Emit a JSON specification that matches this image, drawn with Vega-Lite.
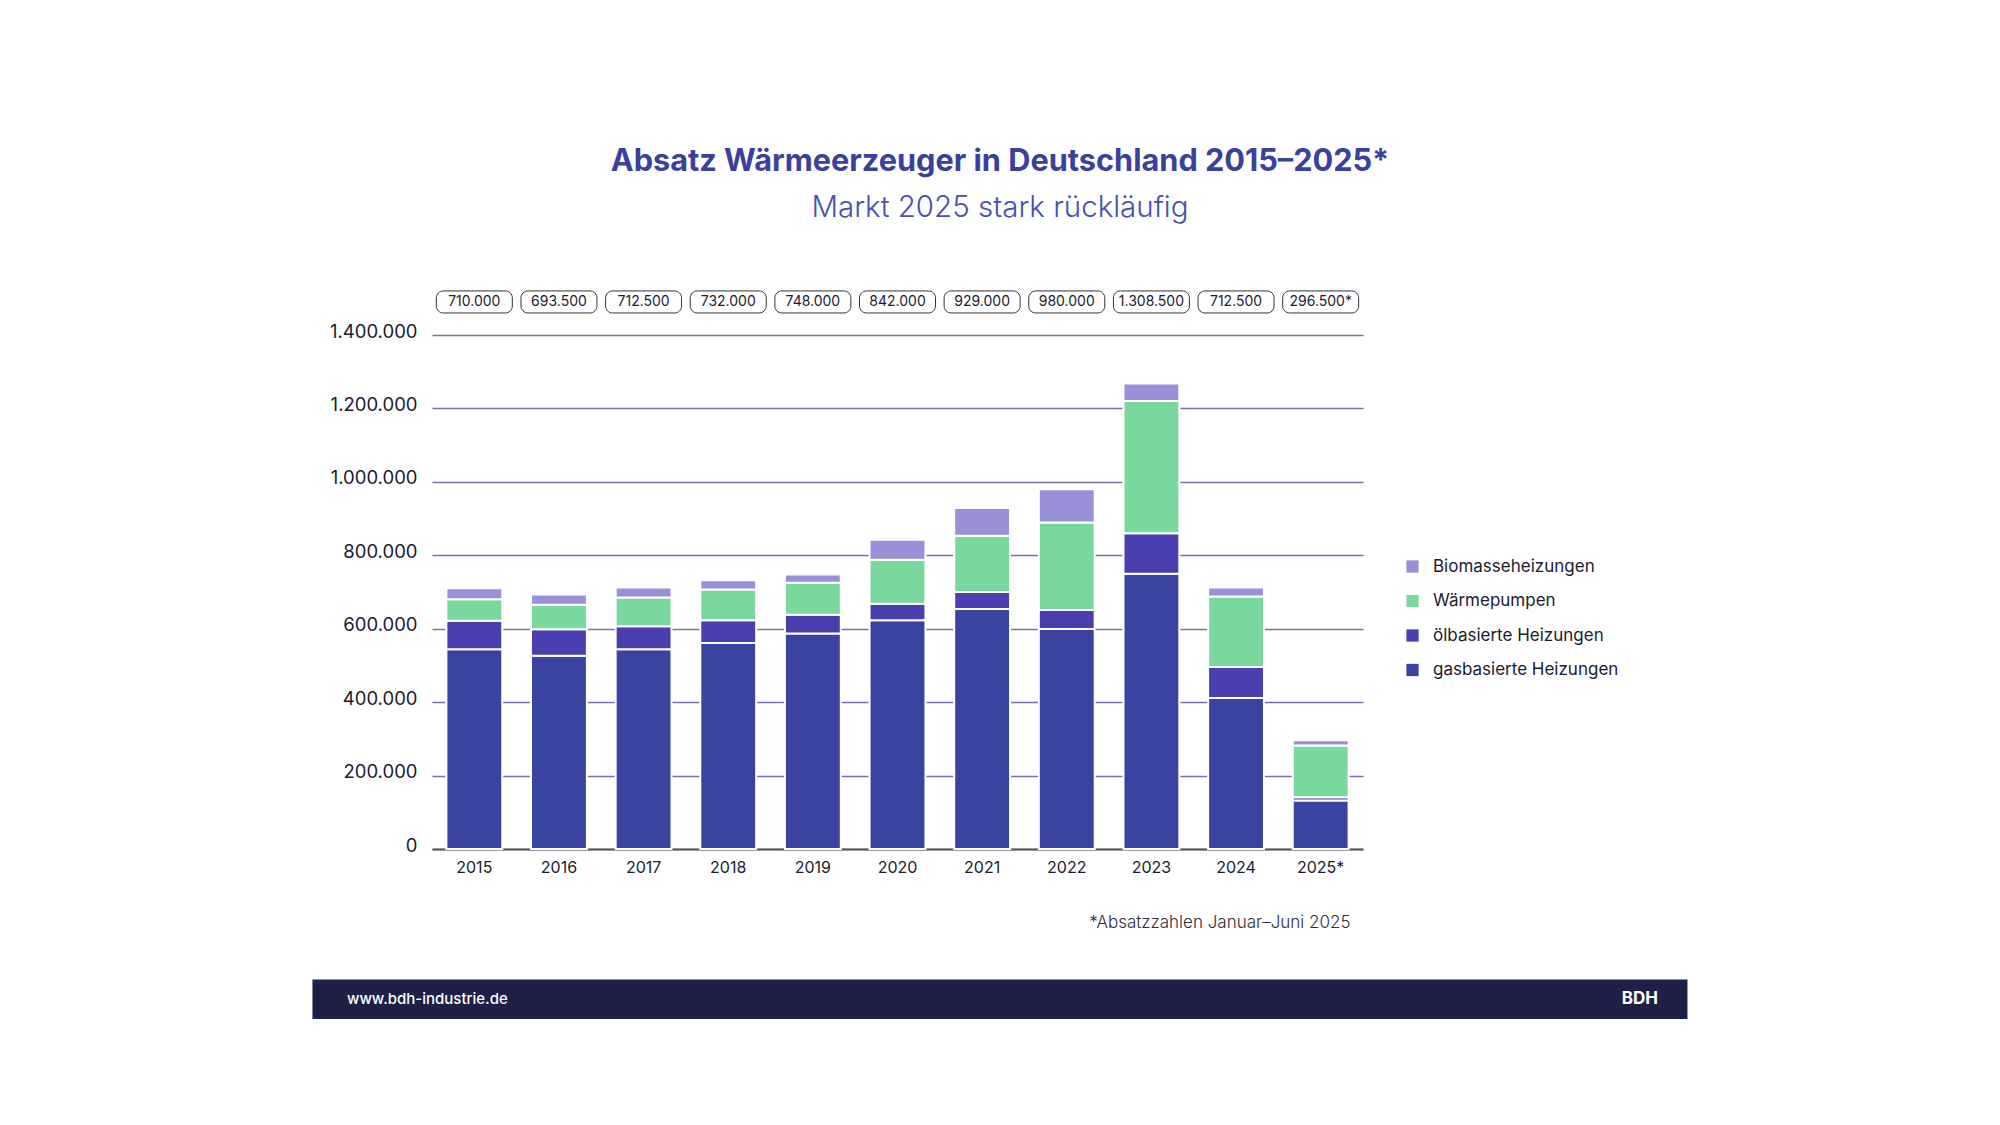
{
  "$schema": "https://vega.github.io/schema/vega-lite/v6.json",
  "width": 931,
  "height": 514,
  "autosize": {"type": "none"},
  "padding": {"left": 432, "top": 335, "right": 637, "bottom": 276},
  "background": "white",
  "title": {
    "text": "Absatz Wärmeerzeuger in Deutschland 2015–2025*",
    "subtitle": "Markt 2025 stark rückläufig",
    "anchor": "middle",
    "frame": "bounds",
    "font": "Inter",
    "fontSize": 30.7,
    "fontWeight": 700,
    "color": "#3a409e",
    "subtitleFont": "Inter",
    "subtitleFontSize": 29.5,
    "subtitleFontWeight": 300,
    "subtitleColor": "#4b4fae",
    "subtitlePadding": 16,
    "offset": 67
  },
  "config": {
    "font": "Inter",
    "view": {"stroke": null},
    "locale": {"number": {"decimal": ",", "thousands": ".", "grouping": [3], "currency": ["", " €"]}}
  },
  "datasets": {
    "segmente": [
      {"jahr": "2015", "typ": "gasbasierte Heizungen", "absatz": 544000},
      {"jahr": "2015", "typ": "ölbasierte Heizungen", "absatz": 78000},
      {"jahr": "2015", "typ": "Wärmepumpen", "absatz": 58000},
      {"jahr": "2015", "typ": "Biomasseheizungen", "absatz": 30000},
      {"jahr": "2016", "typ": "gasbasierte Heizungen", "absatz": 526500},
      {"jahr": "2016", "typ": "ölbasierte Heizungen", "absatz": 72000},
      {"jahr": "2016", "typ": "Wärmepumpen", "absatz": 67000},
      {"jahr": "2016", "typ": "Biomasseheizungen", "absatz": 28000},
      {"jahr": "2017", "typ": "gasbasierte Heizungen", "absatz": 544000},
      {"jahr": "2017", "typ": "ölbasierte Heizungen", "absatz": 63000},
      {"jahr": "2017", "typ": "Wärmepumpen", "absatz": 78000},
      {"jahr": "2017", "typ": "Biomasseheizungen", "absatz": 27500},
      {"jahr": "2018", "typ": "gasbasierte Heizungen", "absatz": 561000},
      {"jahr": "2018", "typ": "ölbasierte Heizungen", "absatz": 62000},
      {"jahr": "2018", "typ": "Wärmepumpen", "absatz": 84000},
      {"jahr": "2018", "typ": "Biomasseheizungen", "absatz": 25000},
      {"jahr": "2019", "typ": "gasbasierte Heizungen", "absatz": 587000},
      {"jahr": "2019", "typ": "ölbasierte Heizungen", "absatz": 51000},
      {"jahr": "2019", "typ": "Wärmepumpen", "absatz": 87000},
      {"jahr": "2019", "typ": "Biomasseheizungen", "absatz": 23000},
      {"jahr": "2020", "typ": "gasbasierte Heizungen", "absatz": 623000},
      {"jahr": "2020", "typ": "ölbasierte Heizungen", "absatz": 45000},
      {"jahr": "2020", "typ": "Wärmepumpen", "absatz": 120000},
      {"jahr": "2020", "typ": "Biomasseheizungen", "absatz": 54000},
      {"jahr": "2021", "typ": "gasbasierte Heizungen", "absatz": 654000},
      {"jahr": "2021", "typ": "ölbasierte Heizungen", "absatz": 46000},
      {"jahr": "2021", "typ": "Wärmepumpen", "absatz": 153000},
      {"jahr": "2021", "typ": "Biomasseheizungen", "absatz": 76000},
      {"jahr": "2022", "typ": "gasbasierte Heizungen", "absatz": 599000},
      {"jahr": "2022", "typ": "ölbasierte Heizungen", "absatz": 52000},
      {"jahr": "2022", "typ": "Wärmepumpen", "absatz": 238000},
      {"jahr": "2022", "typ": "Biomasseheizungen", "absatz": 91000},
      {"jahr": "2023", "typ": "gasbasierte Heizungen", "absatz": 750000},
      {"jahr": "2023", "typ": "ölbasierte Heizungen", "absatz": 110000},
      {"jahr": "2023", "typ": "Wärmepumpen", "absatz": 360000},
      {"jahr": "2023", "typ": "Biomasseheizungen", "absatz": 48000},
      {"jahr": "2024", "typ": "gasbasierte Heizungen", "absatz": 411500},
      {"jahr": "2024", "typ": "ölbasierte Heizungen", "absatz": 84000},
      {"jahr": "2024", "typ": "Wärmepumpen", "absatz": 192000},
      {"jahr": "2024", "typ": "Biomasseheizungen", "absatz": 25000},
      {"jahr": "2025*", "typ": "gasbasierte Heizungen", "absatz": 132000},
      {"jahr": "2025*", "typ": "ölbasierte Heizungen", "absatz": 9000},
      {"jahr": "2025*", "typ": "Wärmepumpen", "absatz": 141000},
      {"jahr": "2025*", "typ": "Biomasseheizungen", "absatz": 14500}
    ],
    "summen": [
      {"jahr": "2015", "summe": "710.000"},
      {"jahr": "2016", "summe": "693.500"},
      {"jahr": "2017", "summe": "712.500"},
      {"jahr": "2018", "summe": "732.000"},
      {"jahr": "2019", "summe": "748.000"},
      {"jahr": "2020", "summe": "842.000"},
      {"jahr": "2021", "summe": "929.000"},
      {"jahr": "2022", "summe": "980.000"},
      {"jahr": "2023", "summe": "1.308.500"},
      {"jahr": "2024", "summe": "712.500"},
      {"jahr": "2025*", "summe": "296.500*"}
    ],
    "fusszeile": [
      {"website": "www.bdh-industrie.de", "marke": "BDH"}
    ]
  },
  "resolve": {"scale": {"x": "independent"}},
  "layer": [
    {
      "layer": [
        {
          "data": {"name": "segmente"},
          "transform": [
            {"calculate": "indexof(['gasbasierte Heizungen', 'ölbasierte Heizungen', 'Wärmepumpen', 'Biomasseheizungen'], datum.typ)", "as": "stapelfolge"}
          ],
          "mark": {"type": "bar", "stroke": "white", "strokeWidth": 2},
          "encoding": {
            "x": {
              "field": "jahr",
              "type": "ordinal",
              "scale": {"paddingInner": 0.34, "paddingOuter": 0.17},
              "axis": {
                "labelAngle": 0,
                "labelFontSize": 16,
                "labelColor": "#1b1b2f",
                "labelPadding": 10,
                "ticks": false,
                "domainColor": "#555555",
                "domainWidth": 2,
                "grid": false,
                "title": "*Absatzzahlen Januar–Juni 2025",
                "titleAnchor": "end",
                "titleAlign": "right",
                "titleX": 918,
                "titleFontSize": 17,
                "titleFontWeight": 300,
                "titleColor": "#2e2e3e",
                "titlePadding": 39
              }
            },
            "y": {
              "field": "absatz",
              "type": "quantitative",
              "stack": "zero",
              "scale": {"domain": [0, 1400000], "nice": false},
              "axis": {
                "values": [0, 200000, 400000, 600000, 800000, 1000000, 1200000, 1400000],
                "format": ",d",
                "title": null,
                "labelFontSize": 18.5,
                "labelColor": "#1b1b2f",
                "labelPadding": 15,
                "labelOffset": -4,
                "ticks": false,
                "domain": false,
                "gridColor": "#7272ac",
                "gridWidth": 1.6
              }
            },
            "order": {"field": "stapelfolge", "type": "quantitative", "sort": "ascending"},
            "color": {
              "field": "typ",
              "type": "nominal",
              "scale": {
                "domain": ["Biomasseheizungen", "Wärmepumpen", "ölbasierte Heizungen", "gasbasierte Heizungen"],
                "range": ["#9a90d8", "#78d89e", "#4a3fae", "#3b43a1"]
              },
              "legend": {
                "title": null,
                "orient": "none",
                "legendX": 972,
                "legendY": 223,
                "symbolType": "square",
                "symbolSize": 150,
                "symbolStrokeWidth": 0,
                "labelFontSize": 17,
                "labelLimit": 400,
                "labelColor": "#1b1b2f",
                "labelOffset": 12,
                "rowPadding": 16.5
              }
            }
          }
        },
        {
          "data": {"name": "summen"},
          "mark": {"type": "bar", "width": 76, "cornerRadius": 7, "fill": "white", "stroke": "#333333", "strokeWidth": 1},
          "encoding": {
            "x": {"field": "jahr", "type": "ordinal"},
            "y": {"datum": 1520000, "type": "quantitative"},
            "y2": {"datum": 1460000}
          }
        },
        {
          "data": {"name": "summen"},
          "mark": {"type": "text", "fontSize": 14, "color": "#1b1b2f", "baseline": "middle", "align": "center"},
          "encoding": {
            "x": {"field": "jahr", "type": "ordinal"},
            "y": {"datum": 1490000, "type": "quantitative"},
            "text": {"field": "summe"}
          }
        }
      ]
    },
    {
      "data": {"name": "fusszeile"},
      "layer": [
        {
          "mark": {"type": "rect", "fill": "#1e2046"},
          "encoding": {
            "x": {"datum": -0.1284, "type": "quantitative", "scale": {"domain": [0, 1]}, "axis": null},
            "x2": {"datum": 1.3485},
            "y": {"datum": -355500, "type": "quantitative"},
            "y2": {"datum": -463000}
          }
        },
        {
          "mark": {"type": "text", "fill": "white", "fontSize": 15, "fontWeight": 500, "align": "left", "baseline": "middle"},
          "encoding": {
            "x": {"datum": -0.0913, "type": "quantitative", "scale": {"domain": [0, 1]}, "axis": null},
            "y": {"datum": -407700, "type": "quantitative"},
            "text": {"field": "website"}
          }
        },
        {
          "mark": {"type": "text", "fill": "white", "fontSize": 17, "fontWeight": 700, "align": "right", "baseline": "middle"},
          "encoding": {
            "x": {"datum": 1.3169, "type": "quantitative", "scale": {"domain": [0, 1]}, "axis": null},
            "y": {"datum": -407700, "type": "quantitative"},
            "text": {"field": "marke"}
          }
        }
      ]
    }
  ]
}
